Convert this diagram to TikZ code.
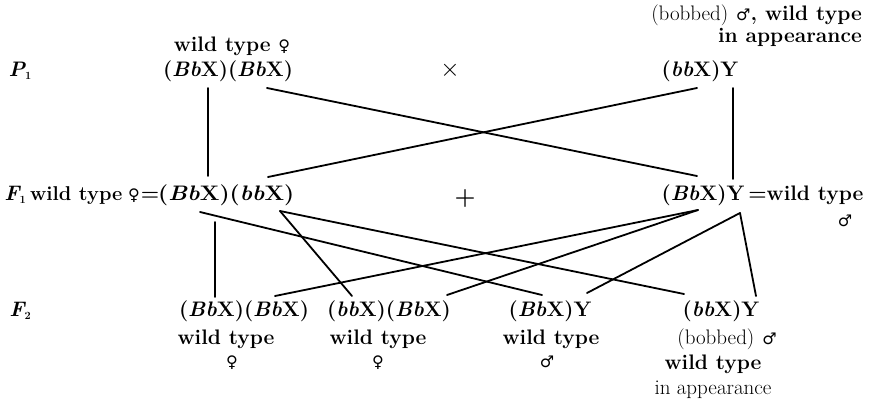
\documentclass[tikz,border=0pt]{standalone}
\usepackage{fontspec}
\newfontfamily\symfont{DejaVu Sans}
\newcommand{\fem}{{\symfont\mdseries\fontsize{16}{16}\selectfont ♀}}
\newcommand{\mal}{{\symfont\mdseries\fontsize{16}{16}\selectfont ♂}}
\newcommand{\gB}{\textit{B}}
\newcommand{\gb}{\textit{b}}
\begin{document}
\begin{tikzpicture}[x=1pt,y=-1pt,
  lbl/.style={inner sep=0pt, text height=14pt, text depth=4.5pt, font=\fontsize{21}{24}\selectfont\bfseries},
  conn/.style={line width=1.8pt, line cap=round}]
\path[use as bounding box] (0,0) rectangle (872,403);
% ---------- P1 row
\node[lbl] (p1lab) at (20,72) {{\itshape P}{\fontsize{11}{11}\selectfont\raisebox{-3pt}{1}}};
\node[lbl] (p1wt) at (232,47) {wild type \fem};
\node[lbl] (p1f) at (228,72) {(\gB\gb X)(\gB\gb X)};
\node[lbl] (cross) at (450,72) {\fontsize{26}{26}\selectfont$\times$};
\node[lbl] (p1m) at (700,72) {(\gb\gb X)Y};
\node[lbl, anchor=east] (p1mt1) at (862,16) {{\mdseries (bobbed)} \mal, wild type};
\node[lbl, anchor=east] (p1mt2) at (862,38) {in appearance};
% ---------- F1 row
\node[lbl] (f1lab) at (15,196) {{\itshape F}{\fontsize{11}{11}\selectfont\raisebox{-3pt}{1}}};
\node[lbl, anchor=west] (f1wt) at (30,196) {\fontsize{20}{22}\selectfont wild type};
\node[lbl] (f1sym) at (134,196) {\fem};
\node[lbl] (f1eq) at (150,196) {=};
\node[lbl, anchor=west] (f1f) at (158,196) {\scalebox{1.1}[1]{(\gB\gb X)(\gb\gb X)}};
\node[lbl] (plus) at (465,200) {\fontsize{24}{24}\selectfont +};
\node[lbl] (f1m) at (703,196) {(\gB\gb X)Y};
\node[lbl, anchor=west] (f1mt) at (f1m.east) {\,=wild type};
\node[lbl] (f1msym) at (845,222) {\mal};
% ---------- F2 row
\node[lbl] (f2lab) at (20,312) {{\itshape F}{\fontsize{11}{11}\selectfont\raisebox{-3pt}{2}}};
\node[lbl] (g1) at (244,312) {(\gB\gb X)(\gB\gb X)};
\node[lbl] (g1t) at (226,340) {wild type};
\node[lbl] (g1s) at (232,363) {\fem};
\node[lbl] (g2) at (389,312) {(\gb\gb X)(\gB\gb X)};
\node[lbl] (g2t) at (378,340) {wild type};
\node[lbl] (g2s) at (378,363) {\fem};
\node[lbl] (g3) at (550,312) {(\gB\gb X)Y};
\node[lbl] (g3t) at (551,340) {wild type};
\node[lbl] (g3s) at (547,363) {\mal};
\node[lbl] (g4) at (721,312) {(\gb\gb X)Y};
\node[lbl] (g4t1) at (727,340) {{\mdseries (bobbed)} \mal};
\node[lbl] (g4t2) at (713,365) {wild type};
\node[lbl] (g4t3) at (713,390) {\mdseries in appearance};
% ---------- connection points
\coordinate (p1fa) at (208,88);
\coordinate (p1fb) at (267,88);
\coordinate (p1ma) at (697,88);
\coordinate (p1mb) at (733,88);
\coordinate (f1fa) at (208,176);
\coordinate (f1fb) at (268,177);
\coordinate (f1ma) at (697,176);
\coordinate (f1mb) at (733,179);
\coordinate (f1fA) at (200,212);
\coordinate (f1fV) at (215,222);
\coordinate (f1fbb) at (280,211);
\coordinate (f1mB) at (698,210);
\coordinate (f1mY) at (740,213);
\coordinate (g1a) at (215,297);
\coordinate (g1b) at (275,296);
\coordinate (g2a) at (352,296);
\coordinate (g2b) at (447,295);
\coordinate (g3a) at (542,295);
\coordinate (g3b) at (587,293);
\coordinate (g4a) at (684,294);
\coordinate (g4b) at (756,296);
% ---------- connectors P1 -> F1
\draw[conn] (p1fa) -- (f1fa);
\draw[conn] (p1fb) -- (f1ma);
\draw[conn] (p1ma) -- (f1fb);
\draw[conn] (p1mb) -- (f1mb);
% ---------- connectors F1 -> F2
\draw[conn] (f1fV) -- (g1a);
\draw[conn] (f1fA) -- (g3a);
\draw[conn] (f1fbb) -- (g2a);
\draw[conn] (f1fbb) -- (g4a);
\draw[conn] (f1mB) -- (g1b);
\draw[conn] (f1mB) -- (g2b);
\draw[conn] (f1mY) -- (g3b);
\draw[conn] (f1mY) -- (g4b);
\end{tikzpicture}
\end{document}
